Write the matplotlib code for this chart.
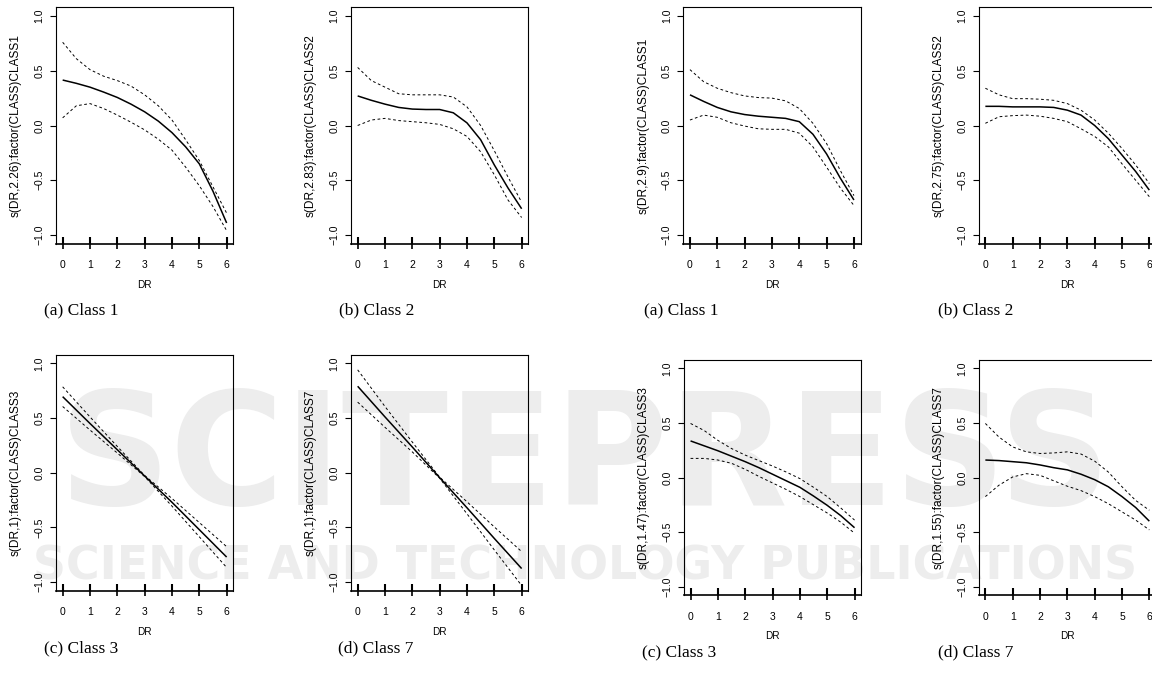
import matplotlib
matplotlib.use("Agg")
import matplotlib.pyplot as plt

W, H = 1152, 677

# ---------------- data ----------------
x_half = [0, 0.5, 1, 1.5, 2, 2.5, 3, 3.5, 4, 4.5, 5, 5.5, 6]
x_int = [0, 1, 2, 3, 4, 5, 6]
rug_x = [0, 1, 2, 3, 4, 5, 6]
x_ticks = [0, 1, 2, 3, 4, 5, 6]
y_ticks = [-1.0, -0.5, 0.0, 0.5, 1.0]
y_ticklabels = ["\u22121.0", "\u22120.5", "0.0", "0.5", "1.0"]

# Left block, panel (a) Class 1
fit_a1 = [0.415, 0.385, 0.35, 0.305, 0.256, 0.195, 0.125, 0.04, -0.065, -0.195, -0.35, -0.60, -0.89]
up_a1 = [0.76, 0.61, 0.51, 0.45, 0.41, 0.36, 0.28, 0.18, 0.05, -0.13, -0.32, -0.56, -0.80]
lo_a1 = [0.07, 0.18, 0.20, 0.155, 0.095, 0.03, -0.04, -0.125, -0.225, -0.38, -0.55, -0.74, -0.96]

# Left block, panel (b) Class 2
fit_b1 = [0.27, 0.23, 0.195, 0.165, 0.15, 0.146, 0.146, 0.116, 0.024, -0.13, -0.36, -0.57, -0.76]
up_b1 = [0.53, 0.41, 0.35, 0.29, 0.28, 0.28, 0.28, 0.26, 0.17, 0.0, -0.23, -0.47, -0.70]
lo_b1 = [0.0, 0.05, 0.065, 0.045, 0.035, 0.025, 0.01, -0.03, -0.10, -0.24, -0.45, -0.68, -0.84]

# Left block, panel (c) Class 3
fit_c1 = [0.695, 0.45, 0.21, -0.03, -0.27, -0.52, -0.77]
up_c1 = [0.785, 0.51, 0.24, -0.025, -0.235, -0.455, -0.675]
lo_c1 = [0.605, 0.39, 0.18, -0.035, -0.305, -0.585, -0.865]

# Left block, panel (d) Class 7
fit_d1 = [0.79, 0.51, 0.235, -0.045, -0.32, -0.60, -0.875]
up_d1 = [0.94, 0.605, 0.28, -0.04, -0.265, -0.495, -0.72]
lo_d1 = [0.645, 0.415, 0.19, -0.05, -0.375, -0.705, -1.03]

# Right block, panel (a) Class 1
fit_a2 = [0.28, 0.22, 0.165, 0.125, 0.10, 0.085, 0.075, 0.065, 0.035, -0.08, -0.26, -0.48, -0.68]
up_a2 = [0.51, 0.40, 0.34, 0.30, 0.27, 0.255, 0.25, 0.225, 0.155, 0.02, -0.165, -0.41, -0.64]
lo_a2 = [0.05, 0.095, 0.075, 0.025, -0.005, -0.03, -0.035, -0.035, -0.07, -0.195, -0.38, -0.57, -0.73]

# Right block, panel (b) Class 2
fit_b2 = [0.175, 0.175, 0.17, 0.17, 0.17, 0.165, 0.14, 0.095, 0.0, -0.12, -0.27, -0.42, -0.59]
up_b2 = [0.34, 0.28, 0.245, 0.245, 0.24, 0.23, 0.20, 0.14, 0.05, -0.07, -0.21, -0.36, -0.53]
lo_b2 = [0.02, 0.08, 0.09, 0.095, 0.085, 0.065, 0.035, -0.03, -0.10, -0.195, -0.35, -0.50, -0.65]

# Right block, panel (c) Class 3
fit_c2 = [0.335, 0.29, 0.245, 0.195, 0.145, 0.09, 0.03, -0.03, -0.09, -0.17, -0.255, -0.35, -0.46]
up_c2 = [0.495, 0.43, 0.34, 0.265, 0.205, 0.155, 0.105, 0.05, -0.01, -0.09, -0.175, -0.28, -0.39]
lo_c2 = [0.175, 0.175, 0.16, 0.13, 0.075, 0.01, -0.05, -0.11, -0.175, -0.25, -0.325, -0.41, -0.51]

# Right block, panel (d) Class 7
fit_d2 = [0.16, 0.155, 0.145, 0.135, 0.115, 0.09, 0.07, 0.03, -0.02, -0.085, -0.175, -0.275, -0.40]
up_d2 = [0.495, 0.37, 0.28, 0.235, 0.22, 0.225, 0.235, 0.215, 0.15, 0.05, -0.085, -0.21, -0.30]
lo_d2 = [-0.175, -0.07, 0.005, 0.035, 0.02, -0.03, -0.08, -0.12, -0.175, -0.24, -0.315, -0.39, -0.48]

ylabels = [
    "s(DR,2.26):factor(CLASS)CLASS1", "s(DR,2.83):factor(CLASS)CLASS2",
    "s(DR,2.9):factor(CLASS)CLASS1", "s(DR,2.75):factor(CLASS)CLASS2",
    "s(DR,1):factor(CLASS)CLASS3", "s(DR,1):factor(CLASS)CLASS7",
    "s(DR,1.47):factor(CLASS)CLASS3", "s(DR,1.55):factor(CLASS)CLASS7",
]
captions = ["(a) Class 1", "(b) Class 2", "(a) Class 1", "(b) Class 2",
            "(c) Class 3", "(d) Class 7", "(c) Class 3", "(d) Class 7"]
xlabel = "DR"
watermark_big = "SCITEPRESS"
watermark_small = "SCIENCE AND TECHNOLOGY PUBLICATIONS"

panels = [
    (x_half, fit_a1, up_a1, lo_a1), (x_half, fit_b1, up_b1, lo_b1),
    (x_half, fit_a2, up_a2, lo_a2), (x_half, fit_b2, up_b2, lo_b2),
    (x_int, fit_c1, up_c1, lo_c1), (x_int, fit_d1, up_d1, lo_d1),
    (x_half, fit_c2, up_c2, lo_c2), (x_half, fit_d2, up_d2, lo_d2),
]

# ---------------- layout (pixels) ----------------
boxes = [
    (56.1, 7.2, 233.2, 243.8), (351.1, 7.2, 528.2, 243.8),
    (683.4, 7.2, 860.5, 243.8), (978.8, 7.2, 1155.9, 243.8),
    (56.1, 354.5, 233.2, 591.0), (351.1, 354.5, 528.2, 591.0),
    (684.0, 359.6, 861.1, 595.4), (978.8, 359.6, 1155.9, 595.4),
]
caption_pos = [(81, 310), (377, 310), (681, 310), (976, 310),
               (81, 648), (376, 648), (679, 652), (976, 652)]

plt.rcParams["font.family"] = ["Liberation Sans", "DejaVu Sans"]

fig = plt.figure(figsize=(W / 100, H / 100), dpi=100)
fig.patch.set_facecolor("white")


def fx(px):
    return px / W


def fy(py):
    return 1 - py / H


# watermark, drawn behind the panels
wm = "#ededed"
fig.text(fx(585), fy(505), watermark_big, fontsize=112, fontweight="bold",
         color=wm, ha="center", va="baseline", family="DejaVu Sans", zorder=-10)
fig.text(fx(585), fy(580), watermark_small, fontsize=33,
         fontweight="bold", color=wm, ha="center", va="baseline",
         family="DejaVu Sans", zorder=-10)

for i, (box, (xs, fit, up, lo)) in enumerate(zip(boxes, panels)):
    l, t, r, b = box
    ax = fig.add_axes([fx(l), fy(b), (r - l) / W, (b - t) / H])
    ax.set_zorder(1)
    ax.patch.set_alpha(0)
    ax.set_xlim(-0.24, 6.24)
    ax.set_ylim(-1.08, 1.08)
    ax.plot(xs, fit, color="black", lw=1.1, solid_capstyle="butt")
    ax.plot(xs, up, color="black", lw=0.7, dashes=(2.8, 2.6))
    ax.plot(xs, lo, color="black", lw=0.7, dashes=(2.8, 2.6))
    # rug
    for rx in rug_x:
        ax.plot([rx, rx], [-1.08, -1.08 + 0.065], color="black", lw=1.5,
                solid_capstyle="butt", clip_on=False)
    for s in ax.spines.values():
        s.set_linewidth(0.8)
    ax.spines["bottom"].set_linewidth(1.2)
    ax.set_xticks(x_ticks)
    ax.set_xticklabels([str(v) for v in x_ticks])
    ax.set_yticks(y_ticks)
    ax.set_yticklabels(y_ticklabels, rotation=90, va="center")
    ax.tick_params(axis="x", direction="out", length=3.6, width=1.2,
                   labelsize=7.5, pad=8)
    ax.tick_params(axis="y", direction="out", length=4.3, width=0.8,
                   labelsize=7.5, pad=4)
    ax.text(-40 / (r - l), 0.5, ylabels[i], transform=ax.transAxes,
            rotation=90, ha="center", va="center", fontsize=8.6)
    fig.text(fx((l + r) / 2), fy(b + 41), xlabel, ha="center", va="center",
             fontsize=7.2)
    cx, cy = caption_pos[i]
    fig.text(fx(cx), fy(cy), captions[i], ha="center", va="center",
             fontsize=12.5, family="Liberation Serif")

fig.savefig("out.png", dpi=100)
